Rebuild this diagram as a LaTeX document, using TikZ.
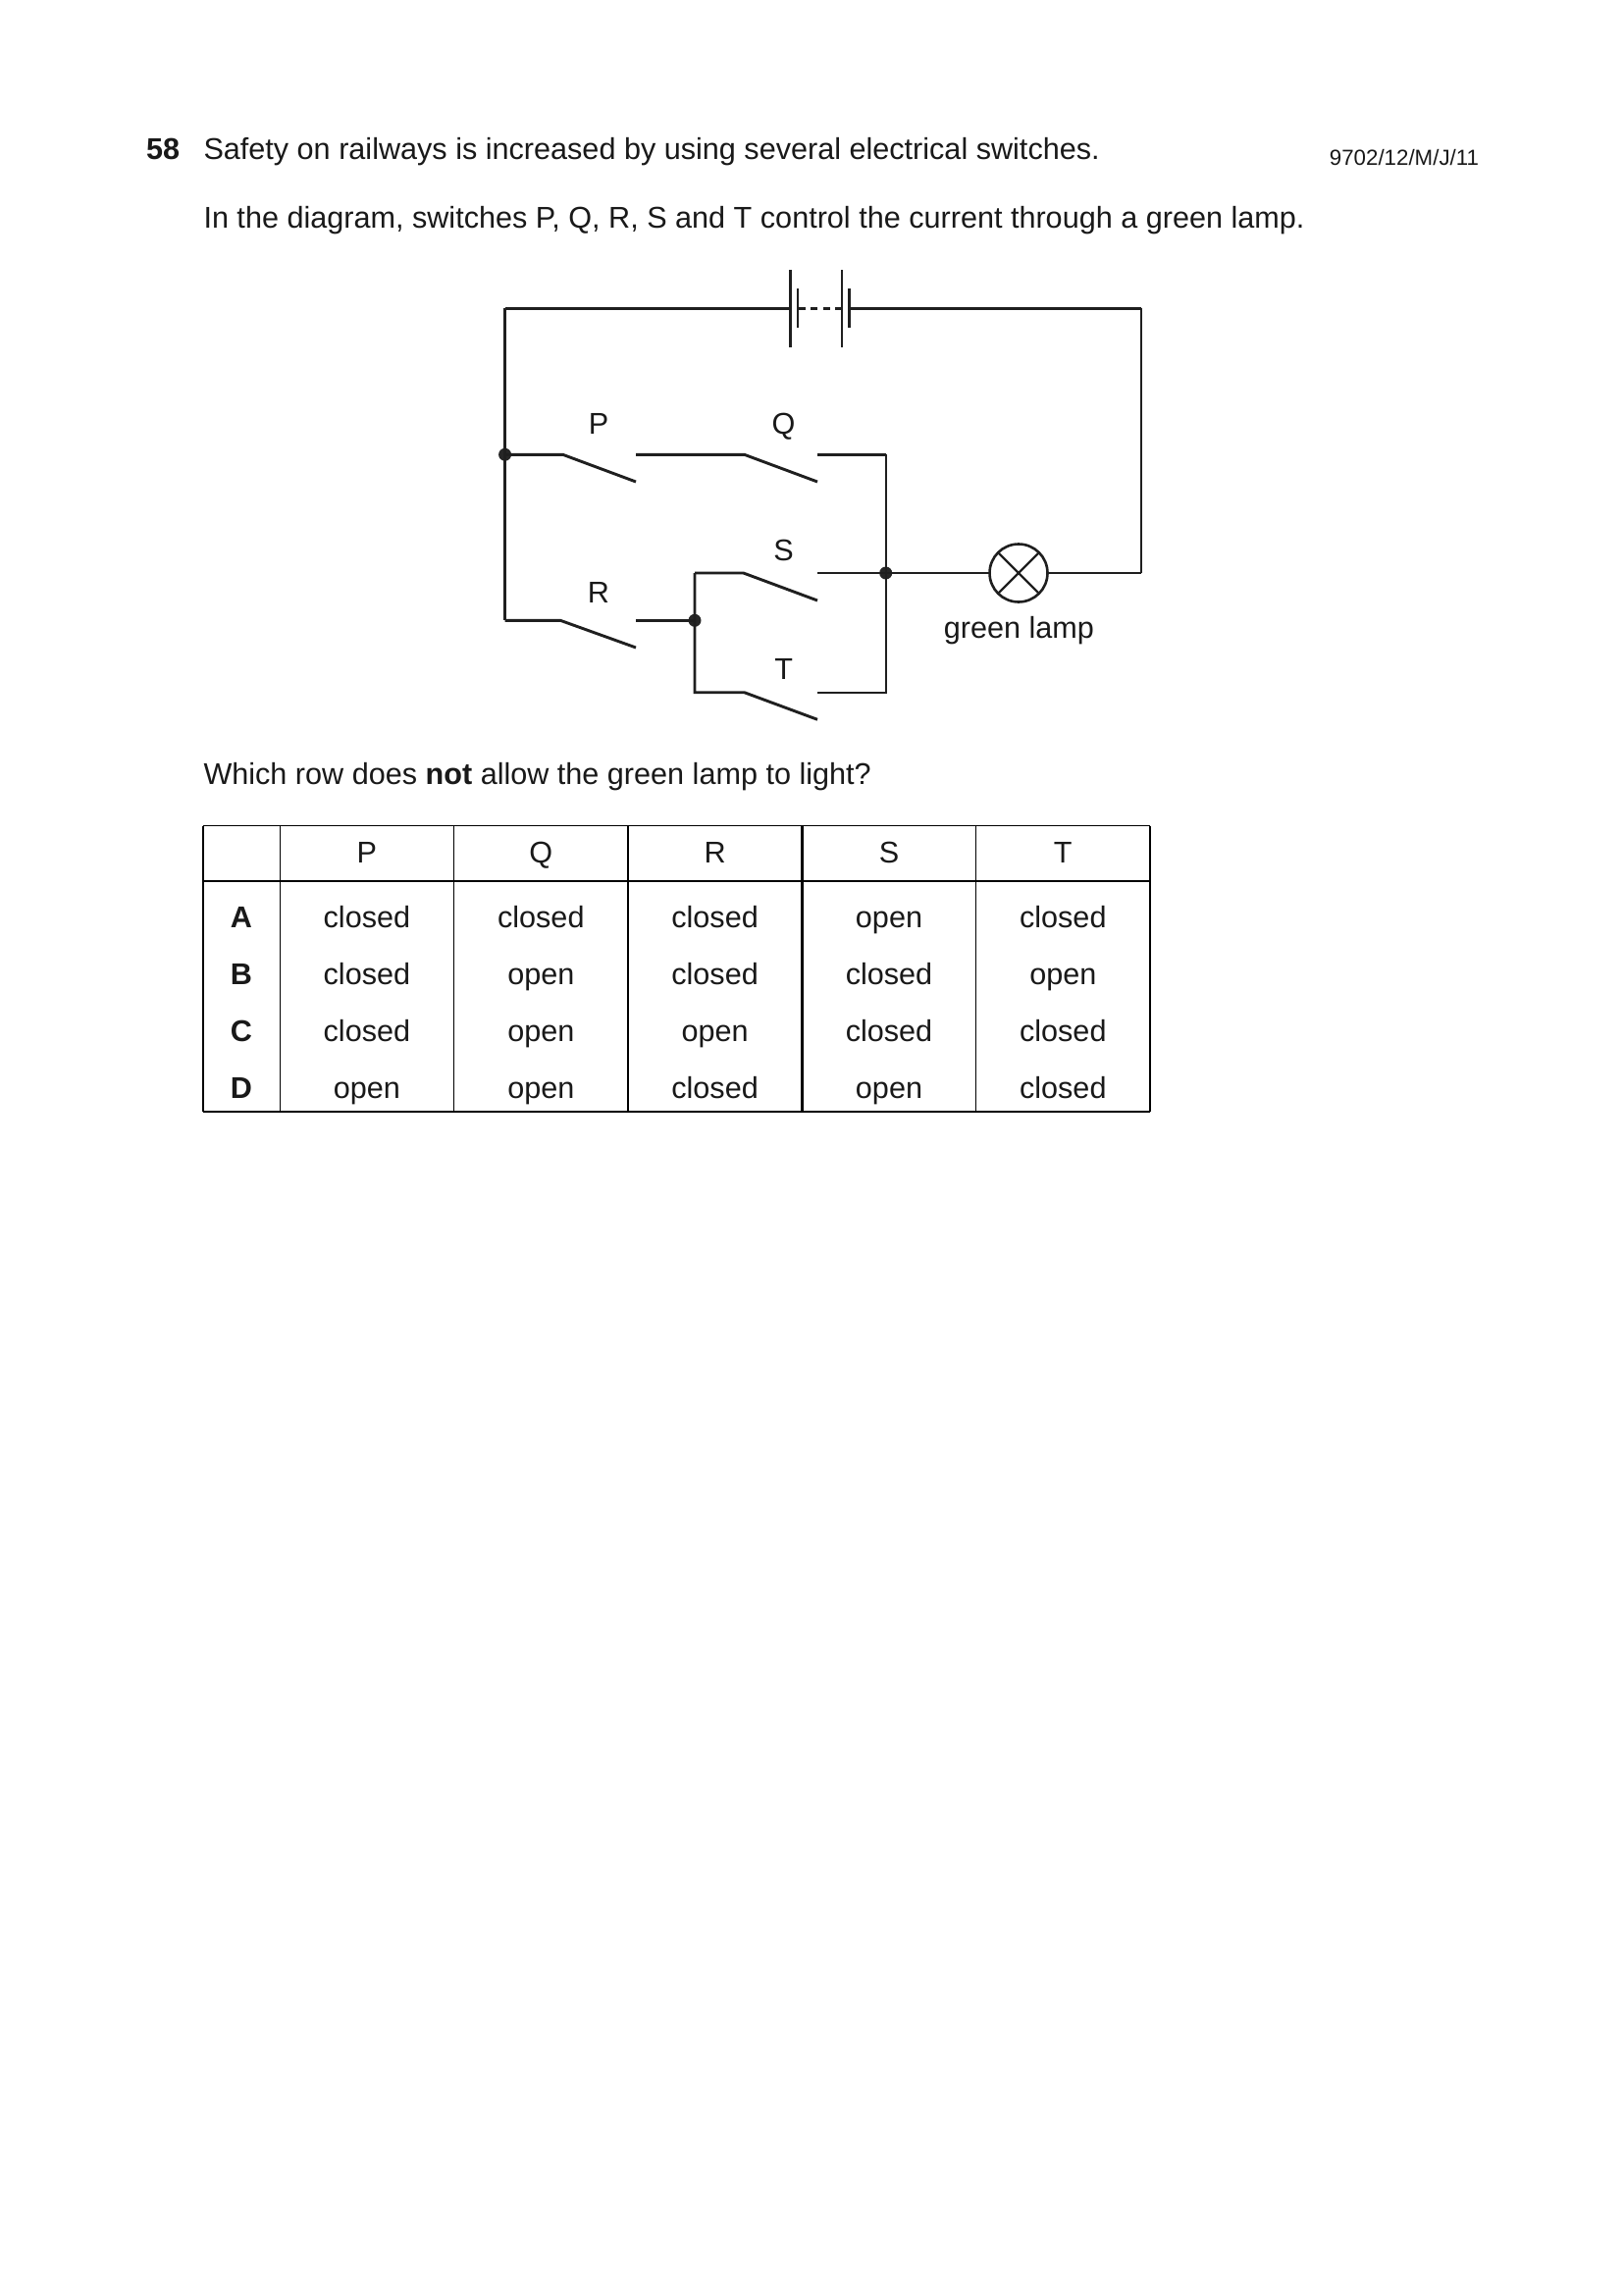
\documentclass[tikz,border=0pt]{standalone}
\usepackage{fontspec}
\setmainfont{Liberation Sans}
\begin{document}
\begin{tikzpicture}[x=1pt,y=-1pt,
  every node/.style={inner sep=0pt,outer sep=0pt,text=black!90},
  wire/.style={draw=black!88,line width=2.9pt,line cap=butt,line join=miter},
  thinwire/.style={draw=black!88,line width=2.3pt,line join=miter},
  plate/.style={draw=black!88,line width=2.6pt},
  dotn/.style={circle,fill=black!85,minimum size=13pt},
  lampn/.style={circle,draw=black!88,line width=2.6pt,minimum size=59pt},
  lbl/.style={font=\fontsize{30.6}{32}\selectfont,anchor=base},
  body/.style={font=\fontsize{30.6}{32}\selectfont,anchor=base west},
  tb/.style={draw=black,line width=2.4pt},
  tn/.style={draw=black,line width=1.5pt},
  cell/.style={font=\fontsize{30.6}{32}\selectfont,anchor=base},
  rowh/.style={font=\fontsize{30.6}{32}\selectfont\bfseries,anchor=base}]
\useasboundingbox (0,0) rectangle (1654,2339);
\fill[white] (0,0) rectangle (1654,2339);

% text
\node[body,font=\fontsize{30.6}{32}\selectfont\bfseries] (num) at (149,162) {58};
\node[body] (l1) at (207.5,162) {Safety on railways is increased by using several electrical switches.};
\node[body] (l2) at (207.5,232) {In the diagram, switches P, Q, R, S and T control the current through a green lamp.};
\node[font=\fontsize{22.3}{24}\selectfont,anchor=base east] (ref) at (1507,168) {9702/12/M/J/11};
\node[body] (l3) at (207.5,799) {Which row does \textbf{not} allow the green lamp to light?};

% circuit points
\coordinate (tl) at (514.6,314.3);
\coordinate (tr) at (1163,314.3);
\coordinate (br) at (1163,584);
\coordinate (bl) at (514.6,632.3);
\node[dotn] (d1) at (514.6,463.3) {};
\node[dotn] (d2) at (708,632.3) {};
\node[dotn] (d3) at (902.7,584) {};
\node[lampn] (lamp) at (1038,584) {};

% battery
\coordinate (c1t) at (805.3,275); \coordinate (c1b) at (805.3,353.7);
\coordinate (c1a) at (813,294);   \coordinate (c1c) at (813,334);
\coordinate (c2t) at (858,275);   \coordinate (c2b) at (858,353.7);
\coordinate (c2a) at (865.3,294); \coordinate (c2c) at (865.3,334);
\coordinate (c1m) at (805.3,314.3);
\coordinate (c1s) at (813,314.3);
\coordinate (c2m) at (858,314.3);
\coordinate (c2s) at (865.3,314.3);
\draw[plate] (c1t) -- (c1b);
\draw[plate] (c1a) -- (c1c);
\draw[plate] (c2t) -- (c2b);
\draw[draw=black!88,line width=3.6pt] (c2a) -- (c2c);
\draw[wire,line width=2.5pt] (c1m) -- (tl);
\draw[thinwire] (tl) -- (bl);
\draw[wire,line width=3.2pt,dash pattern=on 7.5pt off 5.3pt] (c1s) -- (c2m);
\draw[wire] (c2s) -- (tr);
\draw[thinwire] (tr) -- (br);
\draw[wire] (br) -- (lamp.east);

% switches
\coordinate (Pk) at (573.5,463.3); \coordinate (Pe) at (648,491); \coordinate (Po) at (648,463.3);
\coordinate (Qk) at (758.5,463.3); \coordinate (Qe) at (833,491); \coordinate (Qo) at (833,463.3);
\coordinate (Rk) at (571,632.3);   \coordinate (Re) at (648,660); \coordinate (Ro) at (648,632.3);
\coordinate (Sk) at (757.6,584);   \coordinate (Se) at (833,612); \coordinate (So) at (833,584);
\coordinate (Tk) at (758.5,705.7); \coordinate (Te) at (833,733.3); \coordinate (To) at (833,705.7);
\coordinate (Sj) at (708,584);
\coordinate (Tj) at (708,705.7);
\coordinate (Qj) at (902.7,463.3);
\coordinate (Rj) at (902.7,705.7);

\draw[wire] (d1.center) -- (Pk) -- (Pe);
\draw[wire] (Po) -- (Qk) -- (Qe);
\draw[wire] (bl) -- (Rk) -- (Re);
\draw[wire] (Ro) -- (d2.center);
\draw[wire] (Sj) -- (Tj) -- (Tk) -- (Te);
\draw[wire] (Sj) -- (Sk) -- (Se);
\draw[wire] (So) -- (lamp.west);
\draw[wire] (Qo) -- (Qj);
\draw[thinwire] (Qj) -- (Rj) -- (To);

% lamp cross
\draw[draw=black!88,line width=2.4pt] (lamp.north west) -- (lamp.south east);
\draw[draw=black!88,line width=2.4pt] (lamp.north east) -- (lamp.south west);

% circuit labels
\node[lbl] (lP) at (610,442) {P};
\node[lbl] (lQ) at (798.6,442) {Q};
\node[lbl] (lS) at (798.6,571) {S};
\node[lbl] (lR) at (610,614) {R};
\node[lbl] (lT) at (798.6,692) {T};
\node[lbl] (lG) at (1038.5,650) {green lamp};

% table
\coordinate (t0) at (206.7,841.7); \coordinate (b0) at (206.7,1132.7);
\coordinate (t1) at (285.3,841.7); \coordinate (b1) at (285.3,1132.7);
\coordinate (t2) at (462.6,841.7); \coordinate (b2) at (462.6,1132.7);
\coordinate (t3) at (640,841.7);   \coordinate (b3) at (640,1132.7);
\coordinate (t4) at (817.3,841.7); \coordinate (b4) at (817.3,1132.7);
\coordinate (t5) at (994.6,841.7); \coordinate (b5) at (994.6,1132.7);
\coordinate (t6) at (1172,841.7);  \coordinate (b6) at (1172,1132.7);
\coordinate (h0) at (206.7,898);   \coordinate (h6) at (1172,898);
\draw[tn] (t0) -- (t6);
\draw[tb] (h0) -- (h6);
\draw[tb] (b0) -- (b6);
\draw[tb] (t0) -- (b0);
\draw[tn] (t1) -- (b1);
\draw[tn] (t2) -- (b2);
\draw[tb] (t3) -- (b3);
\draw[tb] (t4) -- (b4);
\draw[tn] (t5) -- (b5);
\draw[tn] (t6) -- (b6);

\node[cell] (hP) at (373.9,879.3) {P};
\node[cell] (hQ) at (551.3,879.3) {Q};
\node[cell] (hR) at (728.6,879.3) {R};
\node[cell] (hS) at (906,879.3) {S};
\node[cell] (hT) at (1083.3,879.3) {T};

\node[rowh] (rA) at (246,945) {A};
\node[rowh] (rB) at (246,1003) {B};
\node[rowh] (rC) at (246,1061.7) {C};
\node[rowh] (rD) at (246,1119.3) {D};

\node[cell] (a1) at (373.9,945) {closed};
\node[cell] (a2) at (551.3,945) {closed};
\node[cell] (a3) at (728.6,945) {closed};
\node[cell] (a4) at (906,945) {open};
\node[cell] (a5) at (1083.3,945) {closed};

\node[cell] (b1n) at (373.9,1003) {closed};
\node[cell] (b2n) at (551.3,1003) {open};
\node[cell] (b3n) at (728.6,1003) {closed};
\node[cell] (b4n) at (906,1003) {closed};
\node[cell] (b5n) at (1083.3,1003) {open};

\node[cell] (c1n) at (373.9,1061.7) {closed};
\node[cell] (c2n) at (551.3,1061.7) {open};
\node[cell] (c3n) at (728.6,1061.7) {open};
\node[cell] (c4n) at (906,1061.7) {closed};
\node[cell] (c5n) at (1083.3,1061.7) {closed};

\node[cell] (d1n) at (373.9,1119.3) {open};
\node[cell] (d2n) at (551.3,1119.3) {open};
\node[cell] (d3n) at (728.6,1119.3) {closed};
\node[cell] (d4n) at (906,1119.3) {open};
\node[cell] (d5n) at (1083.3,1119.3) {closed};
\end{tikzpicture}
\end{document}
